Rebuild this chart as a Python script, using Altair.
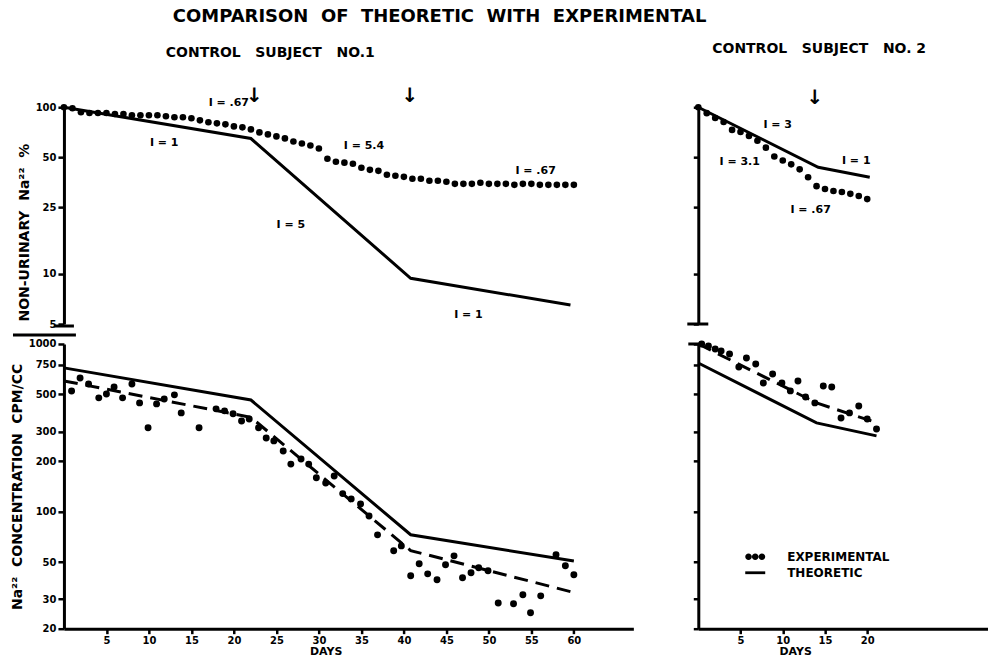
import altair as alt
import pandas as pd

FONT = "DejaVu Sans"
SP = " \u00a0"            # wide word gap as in the hand lettering
SP2 = " \u00a0\u00a0"

# ---------------- data ----------------
# Control subject No.1 : non-urinary Na22 (%)
s1_exp_days = list(range(0, 61))
s1_exp_pct = [100, 98.6, 93.3, 92.3, 92.3, 92.3, 91.0, 91.0, 89.5, 89.5,
              89.5, 89.5, 88.2, 87.0, 87.0, 85.8, 83.4, 81.2, 80.0, 78.9,
              76.7, 75.7, 73.6, 70.6, 68.7, 66.8, 65.0, 62.3, 60.6, 58.9,
              56.5, 49.1, 47.1, 46.5, 45.8, 43.3, 42.1, 41.5, 39.3, 38.8,
              38.2, 37.2, 37.2, 36.2, 36.2, 35.7, 34.7, 34.7, 34.7, 35.2,
              34.7, 34.7, 34.7, 34.2, 34.7, 34.7, 34.2, 34.2, 34.2, 34.2, 34.2]
s1_theo_days = [0, 22, 40.8, 59.6]
s1_theo_pct = [100, 64.9, 9.4, 6.5]
s1_note_text = ["I = .67", "I = 1", "I = 5.4", "I = 5", "I = .67", "I = 1"]
s1_note_days = [19.4, 11.8, 35.3, 26.7, 55.5, 47.6]
s1_note_pct = [105.7, 61.4, 58.9, 19.6, 41.6, 5.68]
s1_arrow_days = [22.4, 40.7]
s1_arrow_pct = [117, 117]

# Control subject No.1 : Na22 concentration (CPM/CC)
s1_conc_days = [0.9, 1.9, 2.9, 4.1, 5.0, 5.9, 6.9, 8.0, 8.9, 9.9,
                10.9, 11.8, 13.0, 13.8, 15.9, 17.9, 18.9, 19.9, 20.9, 21.8,
                22.9, 23.8, 24.7, 25.8, 26.7, 27.9, 28.8, 29.7, 30.8, 31.8,
                32.8, 33.8, 34.9, 35.9, 36.9, 38.8, 39.7, 40.8, 41.8, 42.8,
                43.9, 44.9, 45.9, 46.9, 47.9, 48.8, 49.9, 51.1, 52.9, 54.0,
                54.9, 56.1, 57.9, 59.0, 60.0]
s1_conc_cpm = [524, 627, 577, 477, 503, 554, 477, 577, 445, 316,
               439, 470, 497, 388, 316, 410, 399, 383, 347, 357,
               316, 275, 264, 230, 192, 206, 192, 159, 148, 163,
               128, 119, 111, 94, 72.6, 58.3, 62.4, 41.4, 48.8, 42.5,
               39.2, 48.1, 54.4, 40.3, 43.1, 46.2, 44.3, 28.5, 28.2, 31.9,
               24.9, 31.4, 55.2, 47.5, 42.0]
s1_conc_theo_days = [0, 22, 40.8, 60.0]
s1_conc_theo = [720, 463, 72.7, 50.7]
s1_conc_fit_days = [0, 22, 40.8, 60.5]
s1_conc_fit = [602, 365, 58.5, 32.4]

# Control subject No.2 : non-urinary Na22 (%)
s2_exp_days = list(range(0, 21))
s2_exp_pct = [100, 92.1, 86.1, 81.5, 73.1, 71.1, 67.3, 62.9, 57.2, 50.6,
              47.9, 45.4, 42.4, 38.0, 33.6, 32.3, 31.4, 31.0, 30.2, 29.3, 28.1]
s2_theo_days = [0, 14.2, 20.3]
s2_theo_pct = [100, 43.6, 38.0]
s2_note_text = ["I = 3", "I = 3.1", "I = 1", "I = .67"]
s2_note_days = [9.4, 4.9, 18.7, 13.3]
s2_note_pct = [78.2, 46.7, 47.3, 24.2]
s2_arrow_days = [13.8]
s2_arrow_pct = [113]

# Control subject No.2 : Na22 concentration (CPM/CC)
s2_conc_days = [0.4, 1.2, 2.0, 2.7, 3.7, 4.8, 5.7, 6.8, 7.7, 8.8, 9.9,
                10.9, 11.8, 12.7, 13.8, 14.8, 15.8, 16.9, 17.9, 19.0, 20.0, 21.1]
s2_conc_cpm = [1000, 973, 934, 908, 872, 729, 825, 760, 585, 662, 585,
               525, 602, 483, 445, 562, 554, 362, 388, 427, 357, 311]
s2_conc_theo_days = [0, 14, 21.1]
s2_conc_theo = [770, 338, 283]
s2_conc_fit_days = [0, 14, 21.2]
s2_conc_fit = [1000, 445, 338]

legend_labels = ["EXPERIMENTAL", "THEORETIC"]

pct_ticks = [5, 10, 25, 50, 100]
conc_ticks = [20, 30, 50, 100, 200, 300, 500, 750, 1000]

# ---------------- helpers ----------------
W1, W2, HT, HB = 570, 290, 217, 285


def df(days, vals, text=None):
    d = pd.DataFrame({"day": days, "val": vals})
    if text is not None:
        d["label"] = text
    return d


def panel(xdom, ydom, xaxis, yaxis):
    xs = alt.Scale(domain=xdom, nice=False, zero=False)
    ys = alt.Scale(type="log", domain=ydom, nice=False)
    x = alt.X("day:Q", scale=xs, axis=xaxis)
    y = alt.Y("val:Q", scale=ys, axis=yaxis)
    return x, y


def yaxis_left(values, title, **kw):
    return alt.Axis(values=values, format="d", title=title, tickSize=6,
                    labelPadding=2, titlePadding=4, labelFontSize=10,
                    titleFontSize=14, domainWidth=3, tickWidth=2.5,
                    labelFontWeight="bold", titleFontWeight="bold", **kw)


def yaxis_right(values):
    return alt.Axis(values=values, labels=False, title=None, tickSize=5,
                    domainWidth=3, tickWidth=2.5)


def xaxis_bottom(values, title_x):
    return alt.Axis(values=values, format="d", title="DAYS", titleX=title_x,
                    titlePadding=0, labelPadding=2, tickSize=5,
                    labelFontSize=10, titleFontSize=11, domainWidth=3,
                    tickWidth=2.5, labelFontWeight="bold",
                    titleFontWeight="bold")


def dots(d, x, y, size):
    return alt.Chart(d).mark_circle(size=size, color="black", opacity=1).encode(x=x, y=y)


def solid(d, x, y):
    return alt.Chart(d).mark_line(color="black", strokeWidth=3).encode(x=x, y=y)


def dashed(d, x, y):
    return alt.Chart(d).mark_line(color="black", strokeWidth=3,
                                  strokeDash=[14, 8]).encode(x=x, y=y)


def notes(d, x, y):
    return alt.Chart(d).mark_text(font=FONT, fontWeight="bold", fontSize=11,
                                  color="black").encode(x=x, y=y, text="label:N")


def arrows(d, x, y):
    return alt.Chart(d).mark_text(font=FONT, fontWeight="bold", fontSize=20,
                                  color="black", text="↓").encode(x=x, y=y)


one = pd.DataFrame({"k": [0]})


def bar(x0, x1, yy):
    return alt.Chart(one).mark_rule(color="black", strokeWidth=3).encode(
        x=alt.value(x0), x2=alt.value(x1), y=alt.value(yy))


title_style = dict(font=FONT, fontWeight="bold", fontSize=14, color="black",
                   anchor="start", frame="group")

# ---------------- panels ----------------
x, y = panel([0, 67], [5, 100], None,
             yaxis_left(pct_ticks, SP.join(["NON-URINARY", "Na²²", "%"]),
                        titleY=125))
tl = alt.layer(
    solid(df(s1_theo_days, s1_theo_pct), x, y),
    dots(df(s1_exp_days, s1_exp_pct), x, y, 44),
    notes(df(s1_note_days, s1_note_pct, s1_note_text), x, y),
    arrows(df(s1_arrow_days, s1_arrow_pct), x, y),
    bar(-10, 10, HT + 2),
    bar(-51, 12, HT + 11),
).properties(width=W1, height=HT,
             title=alt.TitleParams(SP2.join(["CONTROL", "SUBJECT", "NO.1"]),
                                   dx=102, offset=26, **title_style))

x, y = panel([0, 34.3], [5, 100], None, yaxis_right(pct_ticks))
tr = alt.layer(
    solid(df(s2_theo_days, s2_theo_pct), x, y),
    dots(df(s2_exp_days, s2_exp_pct), x, y, 44),
    notes(df(s2_note_days, s2_note_pct, s2_note_text), x, y),
    arrows(df(s2_arrow_days, s2_arrow_pct), x, y),
    bar(-11, 10, HT),
).properties(width=W2, height=HT,
             title=alt.TitleParams(SP2.join(["CONTROL", "SUBJECT", "NO. 2"]),
                                   dx=14, offset=32, **title_style))

x, y = panel([0, 67], [20, 1000],
             xaxis_bottom(list(range(5, 61, 5)), 262),
             yaxis_left(conc_ticks,
                        SP.join(["Na²²", "CONCENTRATION", "CPM/CC"])))
bl = alt.layer(
    solid(df(s1_conc_theo_days, s1_conc_theo), x, y),
    dashed(df(s1_conc_fit_days, s1_conc_fit), x, y),
    dots(df(s1_conc_days, s1_conc_cpm), x, y, 48),
).properties(width=W1, height=HB)

three_dots = ("M-1,0a0.33,0.33 0 1,0 0.66,0a0.33,0.33 0 1,0 -0.66,0Z"
              "M-0.33,0a0.33,0.33 0 1,0 0.66,0a0.33,0.33 0 1,0 -0.66,0Z"
              "M0.34,0a0.33,0.33 0 1,0 0.66,0a0.33,0.33 0 1,0 -0.66,0Z")
dash_bar = "M-1,-0.14H1V0.14H-1Z"

x, y = panel([0, 34.3], [20, 1000],
             xaxis_bottom([5, 10, 15, 20], 97), yaxis_right(conc_ticks))
legend_layer = alt.Chart(pd.DataFrame({"kind": legend_labels})).mark_point(
    opacity=0, filled=True, color="black").encode(
    shape=alt.Shape("kind:N", sort=legend_labels,
                    scale=alt.Scale(domain=legend_labels,
                                    range=[three_dots, dash_bar]),
                    legend=alt.Legend(title=None, orient="none",
                                      legendX=47, legendY=203,
                                      symbolSize=400, symbolOpacity=1,
                                      symbolFillColor="black",
                                      symbolStrokeWidth=0,
                                      labelFont=FONT, labelFontSize=12,
                                      labelFontWeight="bold",
                                      labelColor="black", labelOffset=22,
                                      rowPadding=-2, padding=0)))
br = alt.layer(
    solid(df(s2_conc_theo_days, s2_conc_theo), x, y),
    dashed(df(s2_conc_fit_days, s2_conc_fit), x, y),
    dots(df(s2_conc_days, s2_conc_cpm), x, y, 48),
    legend_layer,
    bar(-10, 6, 0),
).properties(width=W2, height=HB)

chart = alt.concat(
    tl, tr, bl, br, columns=2, bounds="flush",
    spacing={"row": 20, "column": 65},
).resolve_scale(x="independent", y="independent", shape="independent"
).resolve_legend(shape="independent").properties(
    title=alt.TitleParams(
        SP.join(["COMPARISON", "OF", "THEORETIC", "WITH", "EXPERIMENTAL"]),
        font=FONT, fontWeight="bold", fontSize=18, color="black",
        anchor="start", frame="group", dx=109, offset=16),
    padding={"left": 10, "top": 8, "right": 0, "bottom": 0},
).configure_view(stroke=None).configure_axis(
    labelFont=FONT, titleFont=FONT, domainColor="black", tickColor="black",
    labelColor="black", titleColor="black", grid=False,
)

chart.save("out.html", embed_options={"renderer": "svg", "actions": False})
